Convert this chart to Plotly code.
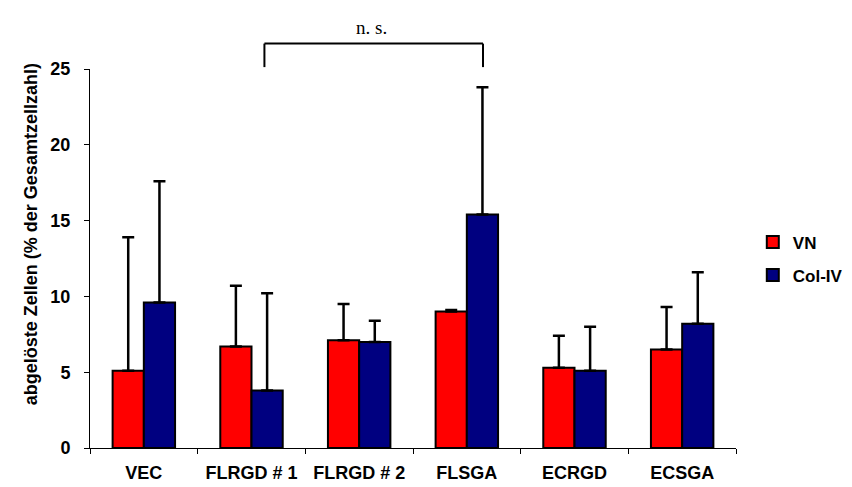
import plotly.graph_objects as go

categories = ["VEC", "FLRGD # 1", "FLRGD # 2", "FLSGA", "ECRGD", "ECSGA"]
vn_values = [5.1, 6.7, 7.1, 9.0, 5.3, 6.5]
vn_errors = [8.8, 4.0, 2.4, 0.1, 2.1, 2.8]
col_values = [9.6, 3.8, 7.0, 15.4, 5.1, 8.2]
col_errors = [8.0, 6.4, 1.4, 8.4, 2.9, 3.4]
y_ticks = [0, 5, 10, 15, 20, 25]

FONT = "Liberation Sans, Arial, sans-serif"

fig = go.Figure()
for name, vals, errs, color in [("VN", vn_values, vn_errors, "#FF0000"),
                                ("Col-IV", col_values, col_errors, "#000080")]:
    fig.add_trace(go.Bar(
        x=categories, y=vals, name=name, legendgroup=name,
        marker=dict(color=color, line=dict(color="black", width=2)),
        error_y=dict(type="data", array=errs, arrayminus=[0] * len(errs),
                     symmetric=False, color="black", thickness=2.5, width=6),
    ))

fig.update_layout(
    width=852, height=487,
    margin=dict(l=82, r=105, t=61, b=39),
    paper_bgcolor="white", plot_bgcolor="white",
    barmode="group", bargap=0.42, bargroupgap=0,
    font=dict(family=FONT, size=16, color="black", weight="bold"),
    showlegend=True,
    legend=dict(x=1.026, y=0.59, xanchor="left", yanchor="top",
                font=dict(family=FONT, size=17, color="black", weight="bold"),
                tracegroupgap=8, bgcolor="rgba(0,0,0,0)"),
)
fig.update_xaxes(
    type="category", showline=True, linecolor="black", linewidth=1,
    ticks="outside", tickson="boundaries", ticklen=5, tickcolor="black",
    showgrid=False, zeroline=False, ticklabelstandoff=8,
    tickfont=dict(family=FONT, size=18, color="black", weight="bold"),
)
fig.update_yaxes(
    range=[0, 25], tickvals=y_ticks, showline=True, linecolor="black", linewidth=1,
    ticks="outside", ticklen=5, tickcolor="black", showgrid=False, zeroline=False,
    ticklabelstandoff=10,
    tickfont=dict(family=FONT, size=18, color="black", weight="bold"),
)

# y-axis title
fig.add_annotation(text="abgelöste Zellen (% der Gesamtzellzahl)", textangle=-90,
                   xref="paper", yref="paper", x=-0.092, y=0.563,
                   xanchor="center", yanchor="middle", showarrow=False,
                   font=dict(family=FONT, size=18, color="black", weight="bold"))

# significance bracket
bx0, bx1 = 1.12, 3.15
by_top, by_bot = 1.067, 1.005
for (x0, y0, x1, y1) in [(bx0, by_top, bx1, by_top), (bx0, by_bot, bx0, by_top), (bx1, by_bot, bx1, by_top)]:
    fig.add_shape(type="line", xref="x", yref="paper", x0=x0, y0=y0, x1=x1, y1=y1,
                  line=dict(color="black", width=2))
fig.add_annotation(text="n. s.", xref="x", yref="paper", x=2.11, y=1.11,
                   xanchor="center", yanchor="middle", showarrow=False,
                   font=dict(family="Liberation Serif, Times New Roman, serif", size=19,
                             color="black", weight="normal"))

fig.write_html("out.html")
